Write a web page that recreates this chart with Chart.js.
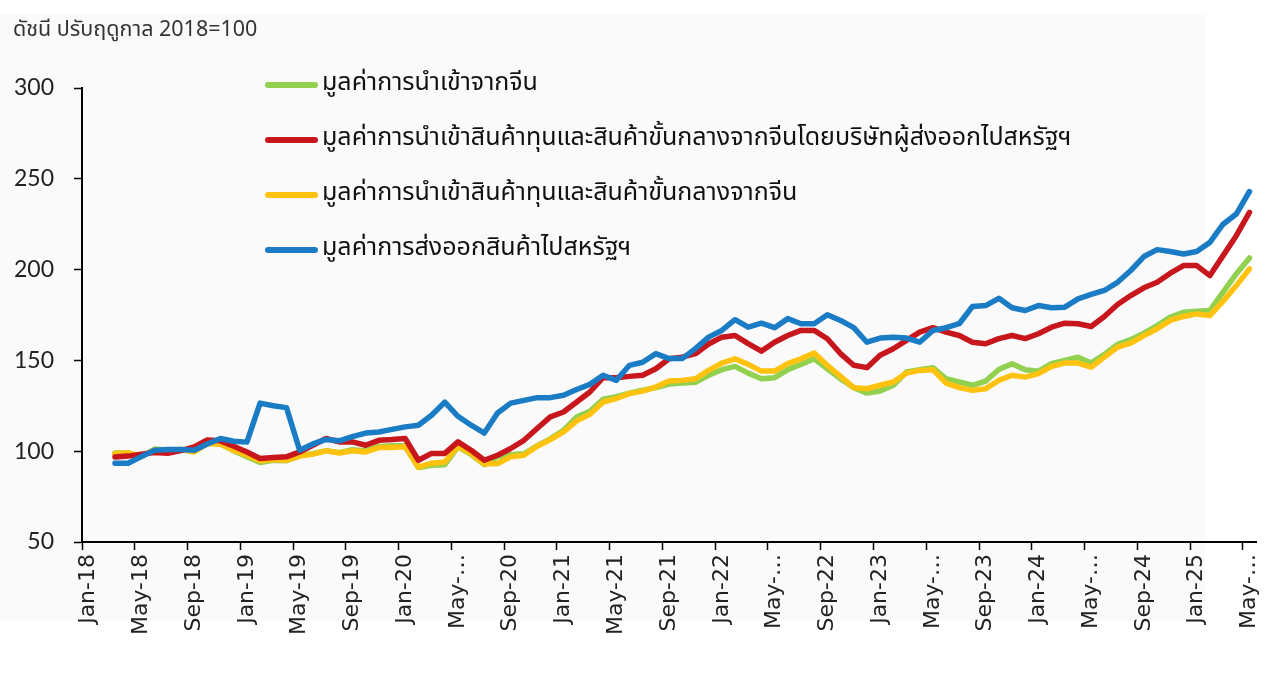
<!DOCTYPE html>
<html>
<head>
<meta charset="utf-8">
<script src="https://cdn.jsdelivr.net/npm/chart.js@4.4.1/dist/chart.umd.min.js"></script>
<style>
  html, body { margin: 0; padding: 0; background: #ffffff; }
  #wrap { position: relative; width: 1280px; height: 680px; overflow: hidden; }
  #panel { position: absolute; left: 0; top: 14px; width: 1205px; height: 606px; background: #fafafa; border-radius: 0 0 14px 0; }
  #title { position: absolute; left: 13px; top: 13px; font: 21.5px "Noto Sans Thai", "Noto Sans", sans-serif; color: #333; }
  #legend { position: absolute; left: 265px; top: 63px; font: 25px "Noto Sans Thai", "Noto Sans", sans-serif; color: #111; }
  .row { height: 55px; display: flex; align-items: flex-start; }
  .row .ln { width: 53px; height: 6px; border-radius: 3px; margin-top: 19px; margin-right: 4px; }
  canvas { position: absolute; left: 0; top: 0; }
</style>
</head>
<body>
<div id="wrap">
  <div id="panel"></div>
  <canvas id="chart" width="1280" height="680"></canvas>
  <div id="title">ดัชนี ปรับฤดูกาล 2018=100</div>
  <div id="legend"></div>
</div>
<script>
// categories: Jan-18 .. May-25 (monthly)
const monthNames = ['Jan','Feb','Mar','Apr','May','Jun','Jul','Aug','Sep','Oct','Nov','Dec'];
const months = [];
for (let y = 2018; y <= 2025; y++) {
  for (let m = 0; m < 12; m++) {
    if (y === 2025 && m > 4) break;
    months.push(monthNames[m] + '-' + String(y).slice(2));
  }
}

// tick labels shown every 4 months (as in the source, some are cut off)
const tickLabels = ['Jan-18','May-18','Sep-18','Jan-19','May-19','Sep-19','Jan-20','May-…',
  'Sep-20','Jan-21','May-21','Sep-21','Jan-22','May-…','Sep-22','Jan-23','May-…',
  'Sep-23','Jan-24','May-…','Sep-24','Jan-25','May-…'];

const yTicks = [50, 100, 150, 200, 250, 300];

// มูลค่าการนำเข้าจากจีน
const importChina = [null, null,
  99, 99, 97, 101.2, 100.5, 101, 99.8, 104.5, 104, 100.2,
  97, 93.8, 95, 94.8, 97.5, 98.6, 100.3, 99.2, 100.8, 100.2, 102.6, 103,
  103, 91, 92.2, 92.6, 102.4, 98.2, 92.6, 97, 98, 98.6, 103, 106.8,
  111.5, 118.8, 122, 128.6, 130, 132, 133.6, 135, 137, 137.5, 138, 141.8,
  144.9, 146.7, 143, 139.9, 140.5, 144.9, 147.8, 150.9, 145.4, 139.9, 135, 132,
  133.1, 136.3, 143.6, 144.9, 146, 139.9, 138.1, 136.3, 138.6, 145, 148.2, 144.9,
  144.1, 148.2, 150, 151.8, 148.5, 153.3, 158.8, 161.4, 165, 169.2, 173.8, 176.5,
  177.1, 177.5, 187.6, 197.6, 206.4];

// มูลค่าการนำเข้าสินค้าทุนและสินค้าขั้นกลางจากจีนโดยบริษัทผู้ส่งออกไปสหรัฐฯ
const importByUsExporters = [null, null,
  96.8, 97.3, 98.4, 99.3, 98.9, 100.3, 102.4, 106.2, 105.7, 102.7,
  99.6, 96, 96.5, 96.9, 99.6, 103.3, 107, 105.1, 105.1, 103.3, 106, 106.4,
  107, 95, 98.8, 98.8, 105.1, 100.5, 95, 97.8, 101.5, 106, 112.5, 118.9,
  121.6, 127.1, 132.6, 140.5, 140.5, 141.2, 141.8, 145.4, 150.9, 151.8, 153.7, 159,
  162.8, 163.7, 159.2, 155.1, 160, 163.7, 166.5, 166.5, 161.9, 153.7, 147.3, 146,
  152.8, 156.4, 161, 165.6, 168, 165.6, 163.7, 160, 159.2, 162, 163.7, 162,
  164.7, 168.3, 170.5, 170.2, 168.7, 174.2, 180.8, 185.7, 190, 193, 198, 202.2,
  202.2, 196.7, 207.7, 218.7, 231.5];

// มูลค่าการนำเข้าสินค้าทุนและสินค้าขั้นกลางจากจีน
const importCapInterChina = [null, null,
  98.7, 99, 97.3, 100.5, 100.2, 100.9, 99.6, 104.2, 103.8, 100.5,
  97.8, 94.7, 95.4, 95, 97.3, 98.4, 100.2, 99, 100.2, 99.6, 102, 102,
  102.5, 91.2, 93.4, 94.1, 102.7, 98.7, 92.9, 93.2, 96.9, 97.8, 102.7, 106.4,
  110.6, 116.7, 120.3, 127.1, 129, 131.7, 133.1, 135.3, 138.6, 139, 139.9, 144.5,
  148.5, 150.9, 147.8, 144.1, 144.1, 148.2, 150.9, 154, 147.3, 141.2, 135, 134.4,
  136.3, 138.1, 143, 144.5, 144.9, 137.5, 135, 133.5, 134.4, 139, 141.8, 140.8,
  142.7, 146.7, 148.5, 148.5, 146.3, 151.8, 157.3, 159.5, 163.7, 167.4, 172, 174.2,
  175.6, 174.7, 182.6, 191.2, 200.4];

// มูลค่าการส่งออกสินค้าไปสหรัฐฯ
const exportUs = [null, null,
  93.4, 93.4, 97, 100.5, 101, 101, 100.5, 104, 107, 105.5,
  105, 126.5, 125, 124, 100.5, 104, 106.5, 105.7, 108, 110, 110.6, 112,
  113.4, 114.3, 119.8, 127, 119.2, 114.3, 110, 121, 126.5, 128, 129.5, 129.5,
  130.8, 134, 136.8, 141.8, 139, 147.3, 149, 153.7, 151, 151, 156.5, 162.8,
  166.5, 172.4, 168.3, 170.5, 168, 173, 170.2, 170.2, 175.1, 172, 168, 160,
  162.3, 162.8, 162.3, 160, 166.5, 168, 170.2, 179.7, 180.2, 184.2, 179, 177.5,
  180.2, 179, 179.3, 183.9, 186.3, 188.5, 193, 199.5, 207.2, 211, 210, 208.6,
  210, 215, 225, 230.6, 243];

const series = [
  { name: 'มูลค่าการนำเข้าจากจีน', data: importChina, color: '#92d050', order: 3 },
  { name: 'มูลค่าการนำเข้าสินค้าทุนและสินค้าขั้นกลางจากจีนโดยบริษัทผู้ส่งออกไปสหรัฐฯ', data: importByUsExporters, color: '#c8161d', order: 1 },
  { name: 'มูลค่าการนำเข้าสินค้าทุนและสินค้าขั้นกลางจากจีน', data: importCapInterChina, color: '#ffc20e', order: 2 },
  { name: 'มูลค่าการส่งออกสินค้าไปสหรัฐฯ', data: exportUs, color: '#1b7cc6', order: 0 }
];

// legend (html)
const legend = document.getElementById('legend');
series.forEach(s => {
  const row = document.createElement('div');
  row.className = 'row';
  row.innerHTML = `<span class="ln" style="background:${s.color}"></span><span>${s.name}</span>`;
  legend.appendChild(row);
});

new Chart(document.getElementById('chart'), {
  type: 'line',
  data: {
    labels: months,
    datasets: series.map(s => ({
      label: s.name,
      data: s.data,
      borderColor: s.color,
      backgroundColor: s.color,
      borderWidth: 5.5,
      borderJoinStyle: 'round',
      borderCapStyle: 'round',
      pointRadius: 0,
      tension: 0,
      order: s.order
    }))
  },
  options: {
    responsive: false,
    animation: false,
    layout: { padding: { top: 88, right: 23, left: 0, bottom: 0 } },
    plugins: { legend: { display: false }, tooltip: { enabled: false } },
    scales: {
      x: {
        offset: true,
        grid: {
          offset: true,
          drawOnChartArea: false,
          drawTicks: true,
          tickLength: 8,
          tickWidth: 1.5,
          tickColor: ctx => (ctx.index % 4 === 0 ? '#000' : 'rgba(0,0,0,0)')
        },
        border: { color: '#000', width: 2 },
        ticks: {
          autoSkip: false,
          maxRotation: 90,
          minRotation: 90,
          padding: 4,
          color: '#222',
          font: { family: 'DejaVu Sans', size: 22 },
          callback: (v, i) => (i % 4 === 0 ? tickLabels[i / 4] : '')
        },
        afterFit: s => { s.height = 138; }
      },
      y: {
        min: 50,
        max: 300,
        afterBuildTicks: s => { s.ticks = yTicks.map(v => ({ value: v })); },
        grid: { drawOnChartArea: false, tickLength: 8, tickWidth: 1.5, tickColor: '#000' },
        border: { color: '#000', width: 2 },
        ticks: {
          padding: 20,
          color: '#222',
          font: { family: 'Lato', size: 23 }
        },
        afterFit: s => { s.width = 82; }
      }
    }
  }
});
</script>
</body>
</html>
